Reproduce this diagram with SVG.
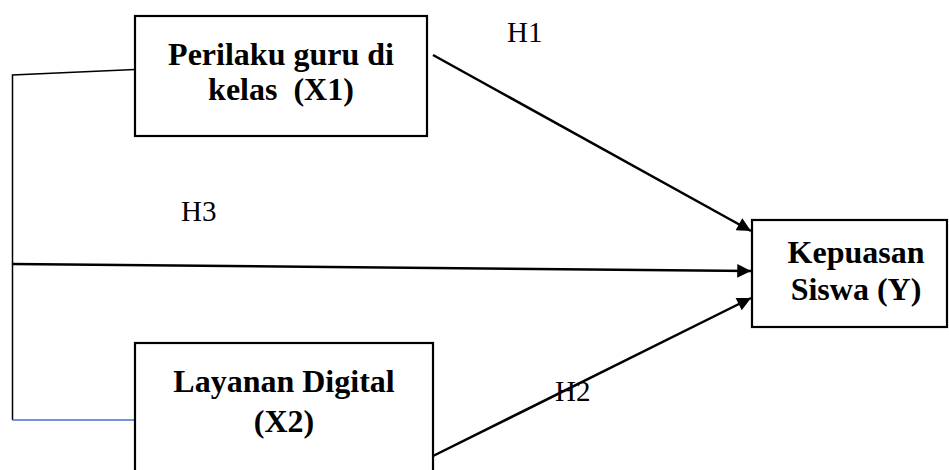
<svg xmlns="http://www.w3.org/2000/svg" width="949" height="470" viewBox="0 0 949 470">
<defs>
<style>
.box{fill:#fff;stroke:#000;stroke-width:2.2}
.t{font-family:"Liberation Serif","Times New Roman",serif;font-size:32px;font-weight:bold;text-anchor:middle;fill:#000}
.lbl{font-family:"Liberation Serif","Times New Roman",serif;font-size:29px;fill:#000}
.ln{stroke:#000;stroke-width:1.5;fill:none}
.ar{stroke:#000;stroke-width:2.5;fill:none;marker-end:url(#ah)}
</style>
<marker id="ah" viewBox="0 0 10 10" refX="10" refY="5" markerWidth="6" markerHeight="5.5" orient="auto" markerUnits="strokeWidth">
<path d="M0,0 L10,5 L0,10 z" fill="#000"/>
</marker>
</defs>
<rect width="949" height="470" fill="#fff"/>
<g id="connectors">
<polyline class="ln" points="135,69.5 12.5,75 12.5,420"/>
<line x1="12.5" y1="420" x2="135" y2="420" stroke="#4472C4" stroke-width="1.5"/>
<line class="ar" x1="433" y1="55" x2="751" y2="231"/>
<line class="ar" x1="12.5" y1="264" x2="751" y2="271"/>
<line class="ar" x1="433" y1="456" x2="751" y2="298"/>
</g>
<g id="x1">
<rect class="box" x="135" y="16" width="292" height="120"/>
<text class="t" x="281" y="65">Perilaku guru di</text>
<text class="t" x="281" y="100" xml:space="preserve">kelas  (X1)</text>
</g>
<g id="x2">
<rect class="box" x="135" y="343" width="298" height="140"/>
<text class="t" x="284" y="392">Layanan Digital</text>
<text class="t" x="284" y="432">(X2)</text>
</g>
<g id="y">
<rect class="box" x="752" y="220" width="195" height="107"/>
<text class="t" x="856" y="263">Kepuasan</text>
<text class="t" x="856" y="300">Siswa (Y)</text>
</g>
<g id="labels">
<text class="lbl" x="507" y="42">H1</text>
<text class="lbl" x="181" y="221">H3</text>
<text class="lbl" x="555" y="401">H2</text>
</g>
</svg>
